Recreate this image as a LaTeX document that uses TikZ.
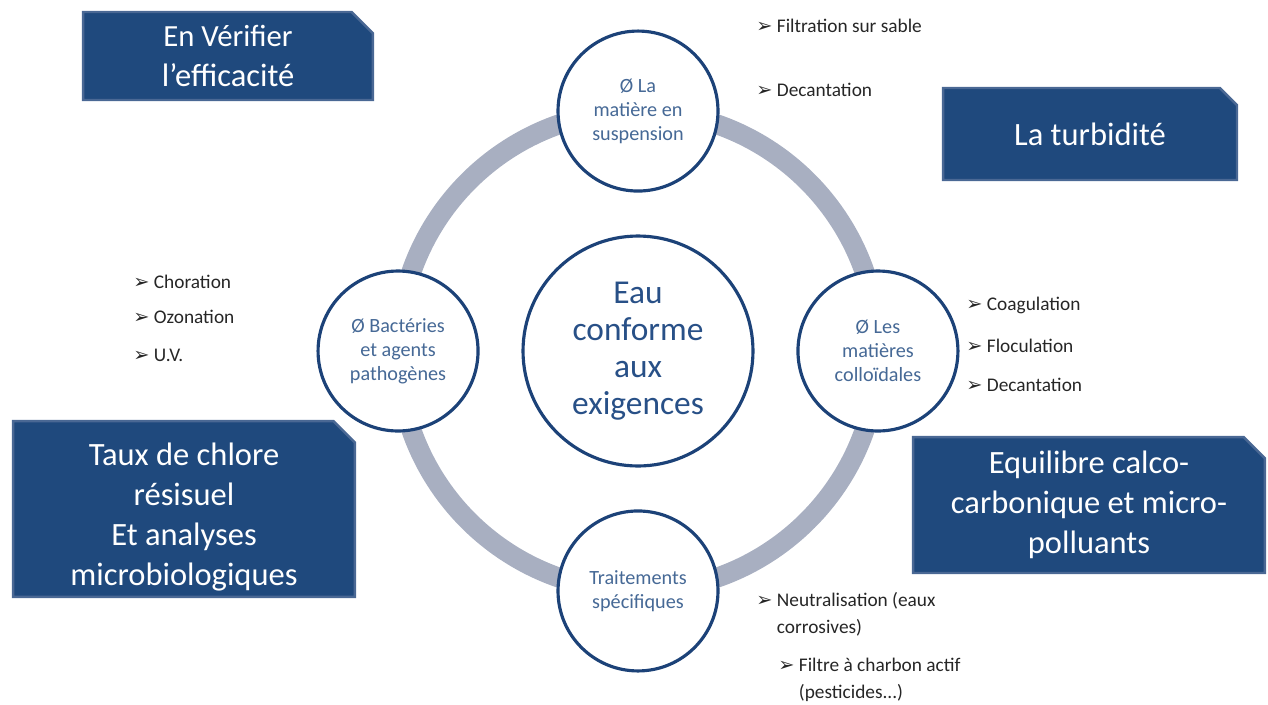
\documentclass[tikz,border=0pt]{standalone}
\usepackage{fontspec}
\setmainfont{Carlito}
\newfontfamily\dejavu{DejaVu Sans}
\usetikzlibrary{shapes.misc}
\definecolor{boxblue}{RGB}{31,73,125}
\definecolor{boxedge}{RGB}{74,104,148}
\definecolor{ringgray}{RGB}{168,175,193}
\definecolor{rimblue}{RGB}{28,66,120}
\definecolor{circtext}{RGB}{70,105,150}
\definecolor{eautext}{RGB}{40,80,135}
\newcommand\fleche{{\dejavu\fontsize{11}{11}\selectfont ➢}\ }
\tikzset{
  cadre/.style={chamfered rectangle, chamfered rectangle corners=north east,
    chamfered rectangle xsep=9pt, fill=boxblue, draw=boxedge, line width=1.4pt,
    text=white, align=center, font=\fontsize{18.5}{22.8}\selectfont, inner sep=0pt},
  etape/.style={circle, draw=rimblue, line width=1.8pt, fill=white, minimum size=3.2cm,
    align=center, text=circtext, font=\fontsize{11.5}{13.7}\selectfont, inner sep=0pt},
  puce/.style={anchor=west, inner sep=0pt, text=black!85, align=left,
    font=\fontsize{11}{15.4}\selectfont}
}
\begin{document}
\begin{tikzpicture}[x=0.02cm,y=-0.02cm]
  \useasboundingbox (0,0) rectangle (1268,704);
  % le cycle
  \coordinate (o) at (638,351);
  \draw[ringgray, line width=0.4cm] (o) circle (4.8cm);
  \node[etape, minimum size=4.6cm, line width=1.8pt, text=eautext,
        font=\fontsize{19}{21}\selectfont] (eau) at (o) {Eau\\conforme\\aux\\exigences};
  \node[etape] (mes) at ([yshift=4.8cm]o) {Ø La\\matière en\\suspension};
  \node[etape] (coll) at ([xshift=4.8cm]o) {Ø Les\\matières\\colloïdales};
  \node[etape] (trait) at ([yshift=-4.8cm]o) {Traitements\\spécifiques};
  \node[etape] (bact) at ([xshift=-4.8cm]o) {Ø Bactéries\\et agents\\pathogènes};
  % les encadres
  \node[cadre, minimum width=5.8cm, minimum height=1.76cm] (verif) at (228,56)
    {\fontsize{17.5}{21}\selectfont En Vérifier\\l’efficacité};
  \node[cadre, minimum width=5.88cm, minimum height=1.84cm] (turb) at (1090,134) {La turbidité};
  \node[cadre, minimum width=6.84cm, minimum height=3.36cm] (chlore) at (184,509)
    {\rule{0pt}{22pt}Taux de chlore\\résisuel\\Et analyses\\microbiologiques};
  \node[cadre, minimum width=7.04cm, minimum height=2.72cm] (calco) at (1089,505)
    {Equilibre calco-\\carbonique et micro-\\polluants};
  % les traitements
  \node[puce] (filt) at (756,26) {\fleche Filtration sur sable};
  \node[puce] (dec1) at (756,90) {\fleche Decantation};
  \node[puce] (chl) at (133,282) {\fleche Choration};
  \node[puce] (ozo) at (133,317) {\fleche Ozonation};
  \node[puce] (uv) at (133,355) {\fleche U.V.};
  \node[puce] (coag) at (966,305) {\fleche Coagulation};
  \node[puce] (floc) at (966,346) {\fleche Floculation};
  \node[puce] (dec2) at (966,385) {\fleche Decantation};
  \node[puce] (neut) at (756,614) {\fleche Neutralisation (eaux\\\phantom{\fleche}corrosives)};
  \node[puce] (charb) at (778,680) {\fleche Filtre à charbon actif\\\phantom{\fleche}(pesticides...)};
\end{tikzpicture}
\end{document}
